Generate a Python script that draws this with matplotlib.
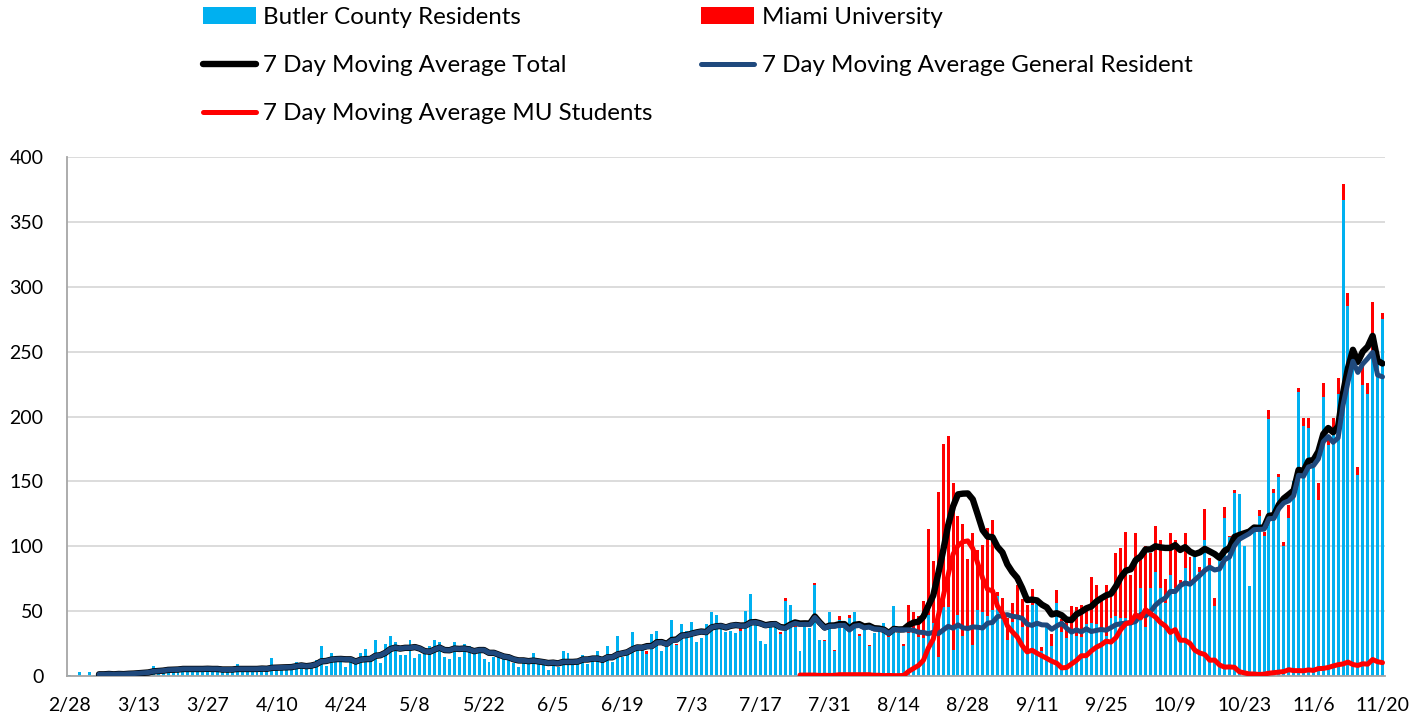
import matplotlib
matplotlib.use('Agg')
import matplotlib.pyplot as plt
import numpy as np
import pandas as pd

plt.rcParams['font.family'] = ['Lato', 'DejaVu Sans']

# daily new cases 2/28 - 11/20, general Butler County residents (blue part of each bar)
residents = [
    1, 0, 3, 0, 3, 1, 1, 1, 2, 1, 2, 2, 3, 2, 3, 4, 3, 8, 4, 5,
    6, 4, 5, 6, 8, 4, 5, 6, 5, 4, 6, 5, 4, 5, 9, 5, 4, 6, 5, 6,
    4, 14, 6, 5, 7, 6, 11, 8, 10, 9, 12, 23, 8,
    18, 11, 11, 7, 12, 11, 18, 21, 12, 28, 10, 25, 31, 26, 16, 16,
    28, 14, 17, 17, 23, 28, 26, 15, 13, 26, 15, 25, 23, 17, 21, 13,
    11, 15, 15, 13, 13, 10, 7, 11, 11, 18, 9, 9, 5, 9, 7, 19,
    18, 9, 11, 16, 9, 12, 19, 11, 23, 11, 31, 15, 18, 34, 22,
    22, 17, 32, 35, 19, 24, 43, 24, 40, 35, 42, 26, 29, 40, 49, 47,
    37, 34, 35, 33, 35, 50, 63, 39, 27, 25, 38, 38, 32, 58, 55,
    38, 19, 39, 37, 70, 28, 27, 49, 19, 43, 37, 45, 49, 31, 36, 23,
    33, 35, 41, 30, 54, 33, 23, 33, 33,
    30, 29, 47, 41, 15, 53, 53, 20, 47, 31, 37, 24, 51, 49, 46, 51,
    62, 44, 28, 42, 46, 38, 20, 55,
    56, 19, 41, 23, 56, 34, 29, 35, 31, 30, 40, 41, 40, 34, 31, 45,
    46, 45, 45, 40, 43, 68, 38, 68, 80, 68, 56, 78, 68,
    69, 83, 73, 92, 80, 105, 85, 54, 89, 122, 107, 141, 140, 100, 69,
    111, 123, 108, 198, 141, 153, 100, 122,
    150, 219, 193, 191, 160, 136, 215, 178, 188, 217, 367, 285, 248,
    155, 224, 217, 250, 245, 275,
]

# Miami University cases (red part stacked on top); none reported early on
miami = [0] * 116 + [
    0, 2, 0, 0, 0, 0, 0, 1, 0, 0, 0, 0, 0, 0, 0, 0,
    0, 0, 0, 0, 2, 0, 0, 0, 0, 0, 0, 0, 2, 2, 0,
    1, 0, 0, 0, 2, 0, 1, 0, 1, 3, 0, 2, 0, 1, 0, 1,
    0, 0, 0, 1, 0, 0, 2, 22, 16,
    16, 29, 66, 48, 127, 126, 132, 129, 76, 86, 53, 86, 46, 52, 68, 69,
    3, 16, 17, 14, 24, 21, 35, 12,
    0, 3, 0, 9, 10, 10, 14, 19, 22, 25, 10, 35, 30, 27, 39, 17,
    49, 54, 66, 38, 67, 22, 62, 27, 36, 37, 19, 32, 37,
    5, 27, 19, 0, 4, 24, 6, 6, 0, 8, 1, 2, 0, 0, 0,
    0, 5, 3, 7, 3, 3, 3, 10,
    0, 3, 6, 8, 0, 13, 11, 5, 11, 13, 12, 10, 0,
    6, 14, 9, 38, 0, 5,
]

tick_labels = ['2/28', '3/13', '3/27', '4/10', '4/24', '5/8', '5/22', '6/5',
               '6/19', '7/3', '7/17', '7/31', '8/14', '8/28', '9/11', '9/25',
               '10/9', '10/23', '11/6', '11/20']

mu_start = 148   # first day the MU student average is shown

n = len(residents)
x = np.arange(n)
res = pd.Series(residents, dtype=float)
mu = pd.Series(miami, dtype=float)

ma_total = (res + mu).rolling(7).mean()
ma_gen = res.rolling(7).mean()
ma_mu = mu.rolling(7).mean()
ma_mu[:mu_start] = np.nan

fig = plt.figure(figsize=(14.24, 7.19), dpi=100)
ax = fig.add_axes([0.047, 0.0598, 0.9256, 0.7218])

b1 = ax.bar(x, res, width=0.6, color='#00B0F0', zorder=2, label='Butler County Residents')
b2 = ax.bar(x, mu, bottom=res, width=0.6, color='#FF0000', zorder=2, label='Miami University')
l1, = ax.plot(x, ma_total, color='black', lw=4.6, zorder=3,
              solid_capstyle='round', solid_joinstyle='round', label='7 Day Moving Average Total')
l2, = ax.plot(x, ma_gen, color='#1F497D', lw=3.6, zorder=4,
              solid_capstyle='round', solid_joinstyle='round', label='7 Day Moving Average General Resident')
l3, = ax.plot(x, ma_mu, color='#FF0000', lw=3.6, zorder=5,
              solid_capstyle='round', solid_joinstyle='round', label='7 Day Moving Average MU Students')

ax.set_xlim(-0.5, n - 0.5)
ax.set_ylim(0, 400)
ax.set_yticks(range(0, 401, 50))
ax.set_xticks(range(0, n, 14))
ax.set_xticklabels(tick_labels)
ax.tick_params(axis='both', length=0, labelsize=14)
ax.tick_params(axis='x', pad=15)
ax.tick_params(axis='y', pad=17)

ax.grid(axis='y', color='#D9D9D9', lw=1.3, zorder=0)
ax.set_axisbelow(True)
for side in ['top', 'right']:
    ax.spines[side].set_visible(False)
for side in ['left', 'bottom']:
    ax.spines[side].set_color('#A6A6A6')
    ax.spines[side].set_linewidth(1.3)

fig.legend([b1, l1, l3, b2, l2],
           [b1.get_label(), l1.get_label(), l3.get_label(), b2.get_label(), l2.get_label()],
           loc='upper left', bbox_to_anchor=(0.1426, 0.990), ncol=2, frameon=False,
           fontsize=17.4, handlelength=2.2, handleheight=0.7, handletextpad=0.3,
           labelspacing=1.12, columnspacing=2.0, borderpad=0, borderaxespad=0)

fig.savefig('out.png', dpi=100)
